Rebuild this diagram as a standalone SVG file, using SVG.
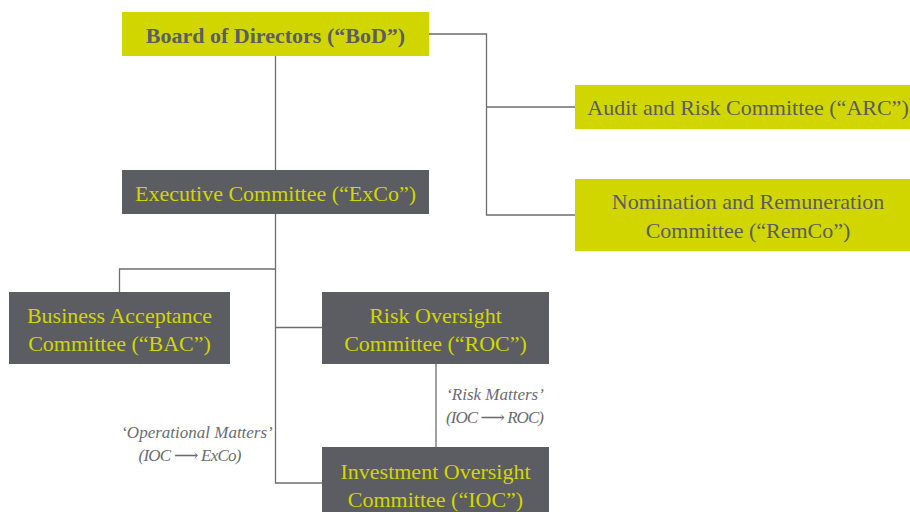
<svg xmlns="http://www.w3.org/2000/svg" width="910" height="512" viewBox="0 0 910 512">
<style>
.y{fill:#d2d600}
.g{fill:#5b5d62}
.t{font-family:"Liberation Serif","DejaVu Serif",serif;font-size:22px;text-anchor:middle}
.ty{fill:#d2d600}
.tg{fill:#5b5d62}
.b{font-weight:bold}
.lbl{font-family:"Liberation Serif","DejaVu Serif",serif;font-size:17px;font-style:italic;fill:#6a6c70;text-anchor:middle}
.c{fill:none;stroke:#6d6e72;stroke-width:1.3}
</style>
<rect width="910" height="512" fill="#fff"/>
<g id="connectors">
<path class="c" d="M275.5 56V170M275.5 214V483H322M275.5 327.5H322M275.5 269H119.5V292M429 34H486.5V215H575M486.5 107H575M436 364V447"/>
</g>
<g id="bod"><rect class="y" x="122" y="12" width="307" height="44"/><text class="t tg b" x="275.5" y="43" font-size="23">Board of Directors (“BoD”)</text></g>
<g id="exco"><rect class="g" x="122" y="170" width="307" height="44"/><text class="t ty" x="275.5" y="201">Executive Committee (“ExCo”)</text></g>
<g id="arc"><rect class="y" x="575" y="85" width="335" height="44"/><text class="t tg" x="748" y="115">Audit and Risk Committee (“ARC”)</text></g>
<g id="remco"><rect class="y" x="575" y="179" width="335" height="72"/><text class="t tg" x="748" y="209">Nomination and Remuneration</text><text class="t tg" x="748" y="238">Committee (“RemCo”)</text></g>
<g id="bac"><rect class="g" x="9" y="292" width="221" height="72"/><text class="t ty" x="119.5" y="323">Business Acceptance</text><text class="t ty" x="119.5" y="351">Committee (“BAC”)</text></g>
<g id="roc"><rect class="g" x="322" y="292" width="227" height="72"/><text class="t ty" x="435.5" y="323">Risk Oversight</text><text class="t ty" x="435.5" y="351">Committee (“ROC”)</text></g>
<g id="ioc"><rect class="g" x="322" y="447" width="227" height="70"/><text class="t ty" x="435.5" y="479">Investment Oversight</text><text class="t ty" x="435.5" y="507">Committee (“IOC”)</text></g>
<g id="labels">
<text class="lbl" x="495" y="400">‘Risk Matters’</text>
<text class="lbl" x="495" y="423" textLength="98">(IOC ⟶ ROC)</text>
<text class="lbl" x="197" y="438" font-size="18.5">‘Operational Matters’</text>
<text class="lbl" x="190" y="461" textLength="103">(IOC ⟶ ExCo)</text>
</g>
</svg>
